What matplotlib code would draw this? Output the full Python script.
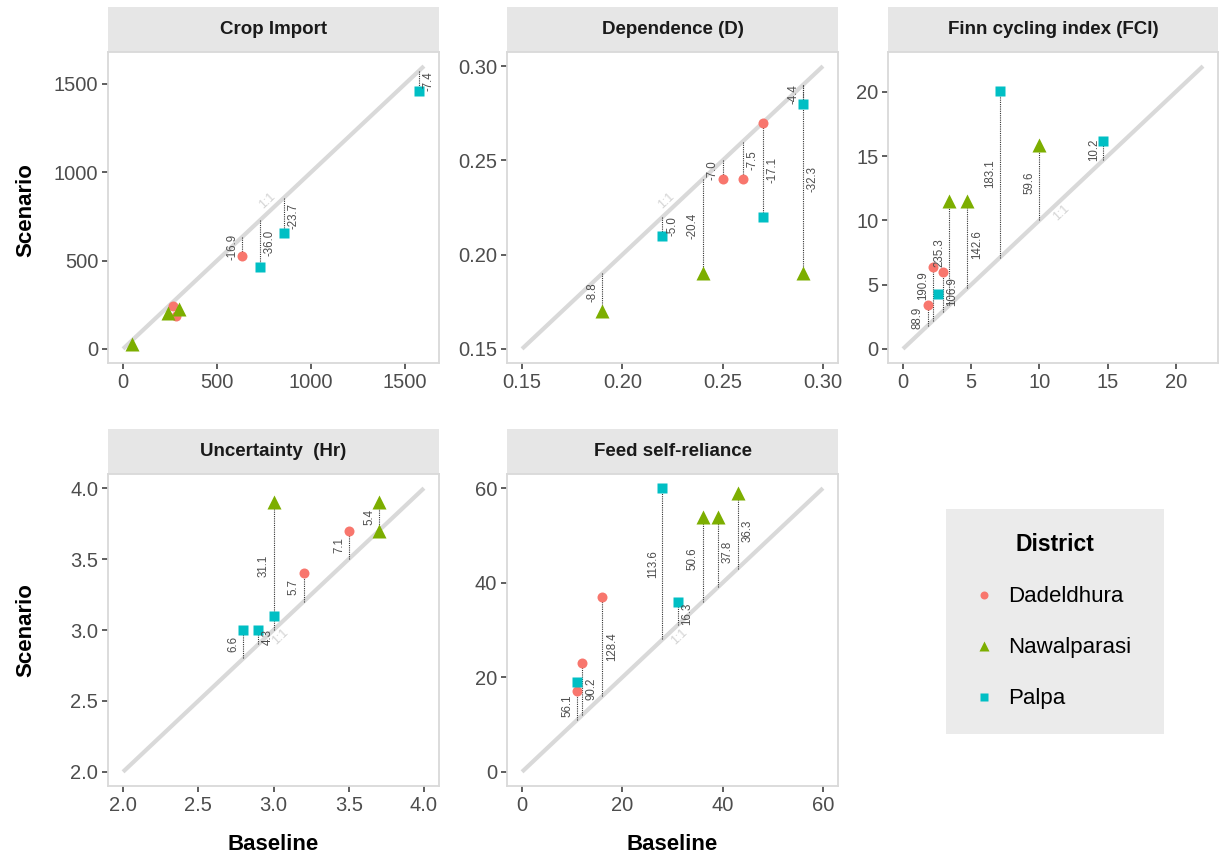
import numpy as np
import matplotlib.pyplot as plt
from matplotlib.patches import Rectangle
from matplotlib.lines import Line2D
from matplotlib.ticker import FormatStrFormatter

plt.rcParams['font.family'] = ['Liberation Sans', 'DejaVu Sans']

# Districts and their look
districts = ['Dadeldhura', 'Nawalparasi', 'Palpa']
colors = {'Dadeldhura': '#F8766D', 'Nawalparasi': '#7CAE00', 'Palpa': '#00BFC4'}
markers = {'Dadeldhura': 'o', 'Nawalparasi': '^', 'Palpa': 's'}
msizes = {'Dadeldhura': 7.2, 'Nawalparasi': 9.5, 'Palpa': 6.9}

# Crop Import
crop_dist = ['Dadeldhura', 'Dadeldhura', 'Dadeldhura', 'Palpa', 'Palpa', 'Palpa',
             'Nawalparasi', 'Nawalparasi', 'Nawalparasi']
crop_base = [633, 266, 282, 1573, 856, 729, 239, 298, 48]
crop_scen = [526, 242, 185, 1457, 653, 466, 202, 225, 28]
crop_lab = ['-16.9', '', '', '-7.4', '-23.7', '-36.0', '', '', '']
crop_side = ['l', '', '', 'r', 'r', 'r', '', '', '']

# Dependence (D)
dep_dist = ['Nawalparasi', 'Palpa', 'Nawalparasi', 'Dadeldhura', 'Dadeldhura',
            'Dadeldhura', 'Palpa', 'Palpa', 'Nawalparasi']
dep_base = [0.19, 0.22, 0.24, 0.25, 0.26, 0.27, 0.27, 0.29, 0.29]
dep_scen = [0.17, 0.21, 0.19, 0.24, 0.24, 0.27, 0.22, 0.28, 0.19]
dep_lab = ['-8.8', '-5.0', '-20.4', '-7.0', '-7.5', '', '-17.1', '-4.4', '-32.3']
dep_side = ['l', 'r', 'l', 'l', 'r', '', 'r', 'l', 'r']

# Finn cycling index (FCI)
fci_dist = ['Dadeldhura', 'Dadeldhura', 'Dadeldhura', 'Palpa', 'Nawalparasi',
            'Nawalparasi', 'Palpa', 'Nawalparasi', 'Palpa']
fci_base = [1.8, 2.2, 2.9, 2.6, 3.4, 4.7, 7.1, 10.0, 14.7]
fci_scen = [3.4, 6.4, 6.0, 4.3, 11.5, 11.5, 20.1, 15.9, 16.2]
fci_lab = ['88.9', '190.9', '106.9', '', '235.3', '142.6', '183.1', '59.6', '10.2']
fci_side = ['l', 'l', 'r', '', 'l', 'r', 'l', 'l', 'l']

# Uncertainty (Hr)
unc_dist = ['Palpa', 'Palpa', 'Palpa', 'Nawalparasi', 'Dadeldhura', 'Dadeldhura',
            'Nawalparasi', 'Nawalparasi']
unc_base = [2.8, 2.9, 3.0, 3.0, 3.2, 3.5, 3.7, 3.7]
unc_scen = [3.0, 3.0, 3.1, 3.9, 3.4, 3.7, 3.9, 3.7]
unc_lab = ['6.6', '4.3', '', '31.1', '5.7', '7.1', '5.4', '']
unc_side = ['l', 'r', '', 'l', 'l', 'l', 'l', '']

# Feed self-reliance
feed_dist = ['Dadeldhura', 'Palpa', 'Dadeldhura', 'Dadeldhura', 'Palpa', 'Palpa',
             'Nawalparasi', 'Nawalparasi', 'Nawalparasi']
feed_base = [11, 11, 12, 16, 28, 31, 36, 39, 43]
feed_scen = [17, 19, 23, 37, 60, 36, 54, 54, 59]
feed_lab = ['56.1', '', '90.2', '128.4', '113.6', '16.3', '50.6', '37.8', '36.3']
feed_side = ['l', '', 'r', 'r', 'l', 'r', 'l', 'r', 'r']

# small vertical nudges (points) for crowded labels
fci_nudge = [-2, 6, 0, 0, 0, 0, 0, 0, 0]

W, H = 1220, 861
fig = plt.figure(figsize=(W / 100, H / 100), dpi=100)


def box(l, t, r, b):
    return [l / W, 1 - b / H, (r - l) / W, (b - t) / H]


panels = [
    dict(title='Crop Import', base=crop_base, scen=crop_scen, dist=crop_dist,
         lab=crop_lab, side=crop_side, rng=(0, 1600), ticks=[0, 500, 1000, 1500],
         fmt='%d', one=(800, 1), pos=(108, 52, 439, 363)),
    dict(title='Dependence (D)', base=dep_base, scen=dep_scen, dist=dep_dist,
         lab=dep_lab, side=dep_side, rng=(0.15, 0.30), ticks=[0.15, 0.20, 0.25, 0.30],
         fmt='%.2f', one=(0.225, 1), pos=(507, 52, 838, 363)),
    dict(title='Finn cycling index (FCI)', base=fci_base, scen=fci_scen, dist=fci_dist,
         lab=fci_lab, side=fci_side, rng=(0, 22), ticks=[0, 5, 10, 15, 20],
         fmt='%d', one=(11.1, -1), pos=(888, 52, 1218, 363), nudge=fci_nudge),
    dict(title='Uncertainty  (Hr)', base=unc_base, scen=unc_scen, dist=unc_dist,
         lab=unc_lab, side=unc_side, rng=(2.0, 4.0), ticks=[2.0, 2.5, 3.0, 3.5, 4.0],
         fmt='%.1f', one=(3.0, -1), pos=(108, 474, 439, 786)),
    dict(title='Feed self-reliance', base=feed_base, scen=feed_scen, dist=feed_dist,
         lab=feed_lab, side=feed_side, rng=(0, 60), ticks=[0, 20, 40, 60],
         fmt='%d', one=(30.1, -1), pos=(507, 474, 838, 786)),
]

for p in panels:
    ax = fig.add_axes(box(*p['pos']))
    lo, hi = p['rng']
    pad = (hi - lo) * 0.05
    ax.set_xlim(lo - pad, hi + pad)
    ax.set_ylim(lo - pad, hi + pad)

    # 1:1 line
    ax.plot([lo, hi], [lo, hi], color='#D9D9D9', lw=3, solid_capstyle='butt', zorder=1)

    # dotted segments and labels
    nudge = p.get('nudge', [0] * len(p['lab']))
    for b, s, lab, side, nu in zip(p['base'], p['scen'], p['lab'], p['side'], nudge):
        if lab == '':
            continue
        ax.plot([b, b], [b, s], color='#333333', lw=0.8, ls=(0, (1, 1)), zorder=2)
        dx = -7 if side == 'l' else 7
        ax.annotate(lab, (b, (b + s) / 2), xytext=(dx, nu), textcoords='offset points',
                    rotation=90, ha='center', va='center', fontsize=8.3,
                    color='#4D4D4D', zorder=4)

    # points
    for d in districts:
        xs = [b for b, dd in zip(p['base'], p['dist']) if dd == d]
        ys = [s for s, dd in zip(p['scen'], p['dist']) if dd == d]
        ax.plot(xs, ys, ls='none', marker=markers[d], color=colors[d],
                ms=msizes[d], mec='none', zorder=3)

    # 1:1 text along the line
    p1 = ax.transData.transform((lo, lo))
    p2 = ax.transData.transform((hi, hi))
    ang = np.arctan2(p2[1] - p1[1], p2[0] - p1[0])
    x0, sgn = p['one']
    off = 7 * sgn
    ax.annotate('1:1', (x0, x0), xytext=(-np.sin(ang) * off, np.cos(ang) * off),
                textcoords='offset points', rotation=np.degrees(ang),
                ha='center', va='center', fontsize=9, color='#D3D3D3', zorder=2)

    ax.set_xticks(p['ticks'])
    ax.set_yticks(p['ticks'])
    ax.xaxis.set_major_formatter(FormatStrFormatter(p['fmt']))
    ax.yaxis.set_major_formatter(FormatStrFormatter(p['fmt']))
    ax.tick_params(length=4, width=1.1, color='#333333', labelsize=14.5,
                   labelcolor='#4D4D4D', pad=3)
    for sp in ax.spines.values():
        sp.set_color('#D9D9D9')
        sp.set_linewidth(1.3)

    # strip on top
    ph = p['pos'][3] - p['pos'][1]
    sh = 45 / ph
    ax.add_patch(Rectangle((0, 1), 1, sh, transform=ax.transAxes, clip_on=False,
                           facecolor='#E6E6E6', edgecolor='none', zorder=0))
    ax.text(0.5, 1 + sh / 2, p['title'], transform=ax.transAxes, ha='center',
            va='center', fontsize=13.5, fontweight='bold', color='#1A1A1A')

# axis titles
for yc in [210, 630]:
    fig.text(26 / W, 1 - yc / H, 'Scenario', rotation=90, ha='center', va='center',
             fontsize=16, fontweight='bold')
for xc in [273, 672]:
    fig.text(xc / W, 1 - 845 / H, 'Baseline', ha='center', va='center',
             fontsize=16, fontweight='bold')

# legend
handles = [Line2D([], [], ls='none', marker=markers[d], color=colors[d],
                  ms=msizes[d] * 0.8, mec='none') for d in districts]
leg = fig.legend(handles, districts, title='District', loc='upper left',
                 bbox_to_anchor=(946 / W, 1 - 733 / H, 218 / W, 224 / H),
                 mode='expand', fontsize=16,
                 title_fontproperties={'weight': 'bold', 'size': 16.5},
                 frameon=True, facecolor='#EBEBEB', edgecolor='none', framealpha=1,
                 fancybox=False, labelspacing=1.35, handletextpad=0.5,
                 borderpad=1.1, handlelength=1.2, borderaxespad=0)

fig.savefig('out.png', dpi=100)
